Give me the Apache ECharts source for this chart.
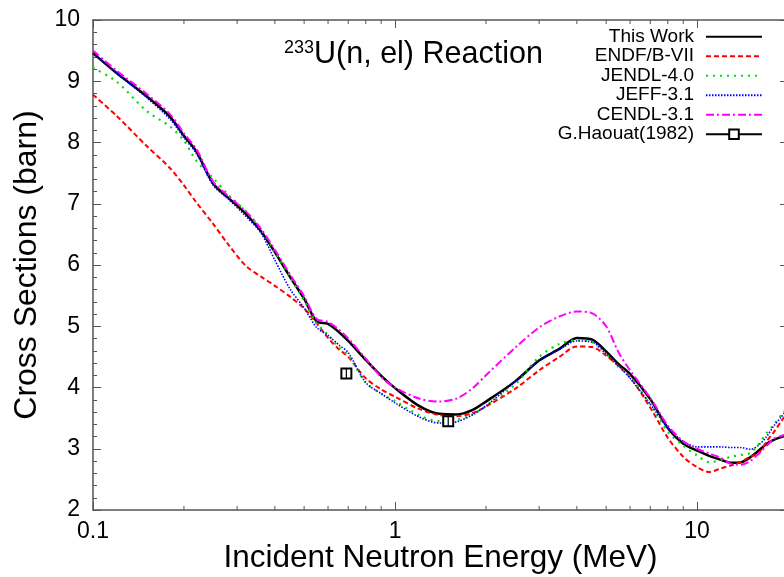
<!DOCTYPE html>
<html>
<head>
<meta charset="utf-8">
<script src="https://cdn.jsdelivr.net/npm/echarts@6/dist/echarts.min.js"></script>
<style>html,body{margin:0;padding:0;background:#fff;}#c{width:784px;height:577px;}</style>
</head>
<body>
<div id="c"></div>
<script>
const energy = [0.1, 0.12, 0.15, 0.18, 0.2, 0.22, 0.25, 0.28, 0.32, 0.36, 0.4, 0.45, 0.5, 0.55, 0.6, 0.65, 0.7, 0.8, 0.9, 1.0, 1.2, 1.4, 1.6, 1.8, 2.0, 2.5, 3.0, 3.5, 4.0, 4.5, 5.0, 5.5, 6.0, 7.0, 8.0, 9.0, 10, 11, 12, 13, 14, 15, 16, 17, 18, 19, 20];
const thisWork = [9.46, 9.13, 8.76, 8.42, 8.11, 7.85, 7.33, 7.10, 6.84, 6.55, 6.21, 5.80, 5.45, 5.08, 5.04, 4.91, 4.76, 4.45, 4.19, 3.99, 3.70, 3.57, 3.56, 3.63, 3.77, 4.10, 4.44, 4.63, 4.81, 4.78, 4.59, 4.38, 4.22, 3.81, 3.34, 3.08, 2.97, 2.88, 2.82, 2.77, 2.78, 2.86, 2.97, 3.08, 3.15, 3.19, 3.23];
const endf = [8.78, 8.43, 7.95, 7.58, 7.30, 7.02, 6.67, 6.34, 5.99, 5.81, 5.66, 5.48, 5.29, 5.05, 4.81, 4.63, 4.50, 4.15, 3.97, 3.85, 3.65, 3.55, 3.53, 3.58, 3.69, 3.98, 4.28, 4.50, 4.67, 4.66, 4.52, 4.35, 4.17, 3.67, 3.18, 2.87, 2.70, 2.62, 2.68, 2.73, 2.79, 2.87, 2.93, 3.12, 3.28, 3.45, 3.60];
const jendl = [9.22, 8.99, 8.52, 8.26, 8.03, 7.70, 7.42, 7.15, 6.88, 6.58, 6.22, 5.80, 5.42, 5.05, 4.86, 4.66, 4.52, 4.08, 3.90, 3.78, 3.55, 3.45, 3.47, 3.56, 3.70, 4.05, 4.50, 4.71, 4.77, 4.74, 4.55, 4.33, 4.18, 3.72, 3.28, 3.05, 2.89, 2.78, 2.82, 2.87, 2.90, 2.93, 3.08, 3.26, 3.40, 3.55, 3.68];
const jeff = [9.46, 9.13, 8.74, 8.38, 8.08, 7.82, 7.30, 7.08, 6.80, 6.52, 6.08, 5.60, 5.30, 4.98, 4.85, 4.70, 4.57, 4.08, 3.90, 3.75, 3.52, 3.42, 3.44, 3.55, 3.70, 4.10, 4.45, 4.62, 4.76, 4.74, 4.55, 4.35, 4.15, 3.73, 3.34, 3.12, 3.03, 3.03, 3.03, 3.02, 3.02, 2.99, 3.06, 3.20, 3.38, 3.52, 3.66];
const cendl = [9.50, 9.17, 8.80, 8.46, 8.15, 7.89, 7.36, 7.13, 6.88, 6.59, 6.25, 5.84, 5.49, 5.12, 5.07, 4.95, 4.80, 4.47, 4.17, 4.00, 3.82, 3.77, 3.82, 3.98, 4.20, 4.65, 4.98, 5.16, 5.24, 5.21, 5.00, 4.57, 4.28, 3.83, 3.38, 3.12, 3.00, 2.92, 2.85, 2.75, 2.74, 2.80, 2.92, 3.05, 3.17, 3.21, 3.24];
const haouatE = [0.69, 1.5];
const haouatS = [4.23, 3.45];
const haouatErr = [0.08, 0.08];
const minorTickE = [0.2, 0.3, 0.4, 0.5, 0.6, 0.7, 0.8, 0.9, 2, 3, 4, 5, 6, 7, 8, 9, 20];
const seriesNames = ['This Work', 'ENDF/B-VII', 'JENDL-4.0', 'JEFF-3.1', 'CENDL-3.1', 'G.Haouat(1982)'];

const FONT = "'Liberation Sans', Arial, sans-serif";
const AX = '#555';
const pair = arr => energy.map((e, i) => [e, arr[i]]);

function lineSeries(name, arr, color, width, type) {
  return {
    name, type: 'line', data: pair(arr), symbol: 'none', smooth: 0.3,
    lineStyle: { color, width, type, cap: 'butt' },
    itemStyle: { color: 'rgba(0,0,0,0)' },
    z: 3
  };
}

const chart = echarts.init(document.getElementById('c'), null, { renderer: 'canvas' });
const option = {
  backgroundColor: '#fff',
  animation: false,
  textStyle: { fontFamily: FONT },
  title: {
    text: '{sup|233}{main|U(n, el) Reaction}',
    left: 284, top: 39, padding: 0,
    textStyle: {
      fontWeight: 'normal',
      rich: {
        sup: { fontSize: 18, fontFamily: FONT, fontWeight: 'normal', color: '#000', verticalAlign: 'top', padding: [0, 0, 12, 0] },
        main: { fontSize: 30.5, fontFamily: FONT, fontWeight: 'normal', color: '#000' }
      }
    }
  },
  legend: {
    orient: 'vertical', right: 21, top: 27, align: 'right', padding: 0,
    itemWidth: 56, itemHeight: 12, itemGap: 0,
    textStyle: { fontSize: 19, color: '#000', fontFamily: FONT, padding: [0, 7, 0, 0], lineHeight: 19.5 },
    data: seriesNames
  },
  grid: { left: 93, top: 20, width: 695, height: 490, containLabel: false, outerBoundsMode: 'none' },
  xAxis: [
    {
      type: 'log', logBase: 10, min: 0.1, max: 20, position: 'bottom',
      name: 'Incident Neutron Energy (MeV)', nameLocation: 'middle', nameGap: 32, nameMoveOverlap: false,
      nameTextStyle: { fontSize: 31.5, color: '#000', fontFamily: FONT },
      axisLine: { lineStyle: { color: AX, width: 1.5 } },
      axisTick: { inside: true, length: 8, lineStyle: { color: AX } },
      axisLabel: { fontSize: 23, color: '#000', fontFamily: FONT, margin: 10, showMinLabel: true, showMaxLabel: false },
      splitLine: { show: false }
    },
    {
      type: 'log', logBase: 10, min: 0.1, max: 20, position: 'top',
      axisLine: { lineStyle: { color: AX, width: 1.5 } },
      axisTick: { inside: true, length: 8, lineStyle: { color: AX } },
      axisLabel: { show: false },
      splitLine: { show: false }
    }
  ],
  yAxis: [
    {
      type: 'value', min: 2, max: 10, interval: 1, position: 'left',
      name: 'Cross Sections (barn)', nameLocation: 'middle', nameGap: 50, nameMoveOverlap: false,
      nameTextStyle: { fontSize: 32, color: '#000', fontFamily: FONT },
      axisLine: { show: true, lineStyle: { color: AX, width: 1.5 } },
      axisTick: { show: true, inside: true, length: 8, lineStyle: { color: AX } },
      minorTick: { show: true, splitNumber: 5, length: 4, lineStyle: { color: AX } },
      axisLabel: { fontSize: 23, color: '#000', fontFamily: FONT, margin: 13, showMinLabel: true, showMaxLabel: true },
      splitLine: { show: false }
    },
    {
      type: 'value', min: 2, max: 10, interval: 1, position: 'right',
      axisLine: { show: true, lineStyle: { color: AX, width: 1.5 } },
      axisTick: { show: true, inside: true, length: 8, lineStyle: { color: AX } },
      minorTick: { show: true, splitNumber: 5, length: 4, lineStyle: { color: AX } },
      axisLabel: { show: false },
      splitLine: { show: false }
    }
  ],
  series: [
    lineSeries('This Work', thisWork, '#000000', 2.5, 'solid'),
    lineSeries('ENDF/B-VII', endf, '#ff0000', 2, [5, 3]),
    lineSeries('JENDL-4.0', jendl, '#00dd00', 2.2, [2, 5]),
    lineSeries('JEFF-3.1', jeff, '#0000ff', 1.6, [1.5, 1.5]),
    lineSeries('CENDL-3.1', cendl, '#ff00ff', 2, [8, 3, 2, 3]),
    {
      name: 'G.Haouat(1982)', type: 'line',
      data: [[haouatE[0], haouatS[0]], [1.0, null], [haouatE[1], haouatS[1]]],
      connectNulls: false,
      symbol: 'emptyRect', symbolSize: 10, showAllSymbol: true,
      itemStyle: { color: '#000', borderColor: '#000', borderWidth: 1.5 },
      lineStyle: { color: '#000', width: 1.5 },
      z: 5
    },
    {
      name: 'errbar', type: 'custom', z: 6,
      data: haouatE.map((e, i) => [e, haouatS[i], haouatErr[i]]),
      encode: { x: 0, y: 1 },
      renderItem: function (params, api) {
        const x = api.value(0), y = api.value(1), err = api.value(2);
        const p1 = api.coord([x, y - err]);
        const p2 = api.coord([x, y + err]);
        return { type: 'line', shape: { x1: p1[0], y1: p1[1], x2: p2[0], y2: p2[1] }, style: { stroke: '#000', lineWidth: 1.2 } };
      }
    },
    {
      name: 'minorticks', type: 'custom', z: 2, silent: true,
      data: minorTickE.map(e => [e, 2]),
      encode: { x: 0, y: 1 },
      clip: false,
      renderItem: function (params, api) {
        const e = api.value(0);
        const b = api.coord([e, 2]);
        const t = api.coord([e, 10]);
        return {
          type: 'group', children: [
            { type: 'line', shape: { x1: b[0], y1: b[1], x2: b[0], y2: b[1] - 4 }, style: { stroke: AX, lineWidth: 1 } },
            { type: 'line', shape: { x1: t[0], y1: t[1], x2: t[0], y2: t[1] + 4 }, style: { stroke: AX, lineWidth: 1 } }
          ]
        };
      }
    }
  ]
};
chart.setOption(option);
</script>
</body>
</html>
